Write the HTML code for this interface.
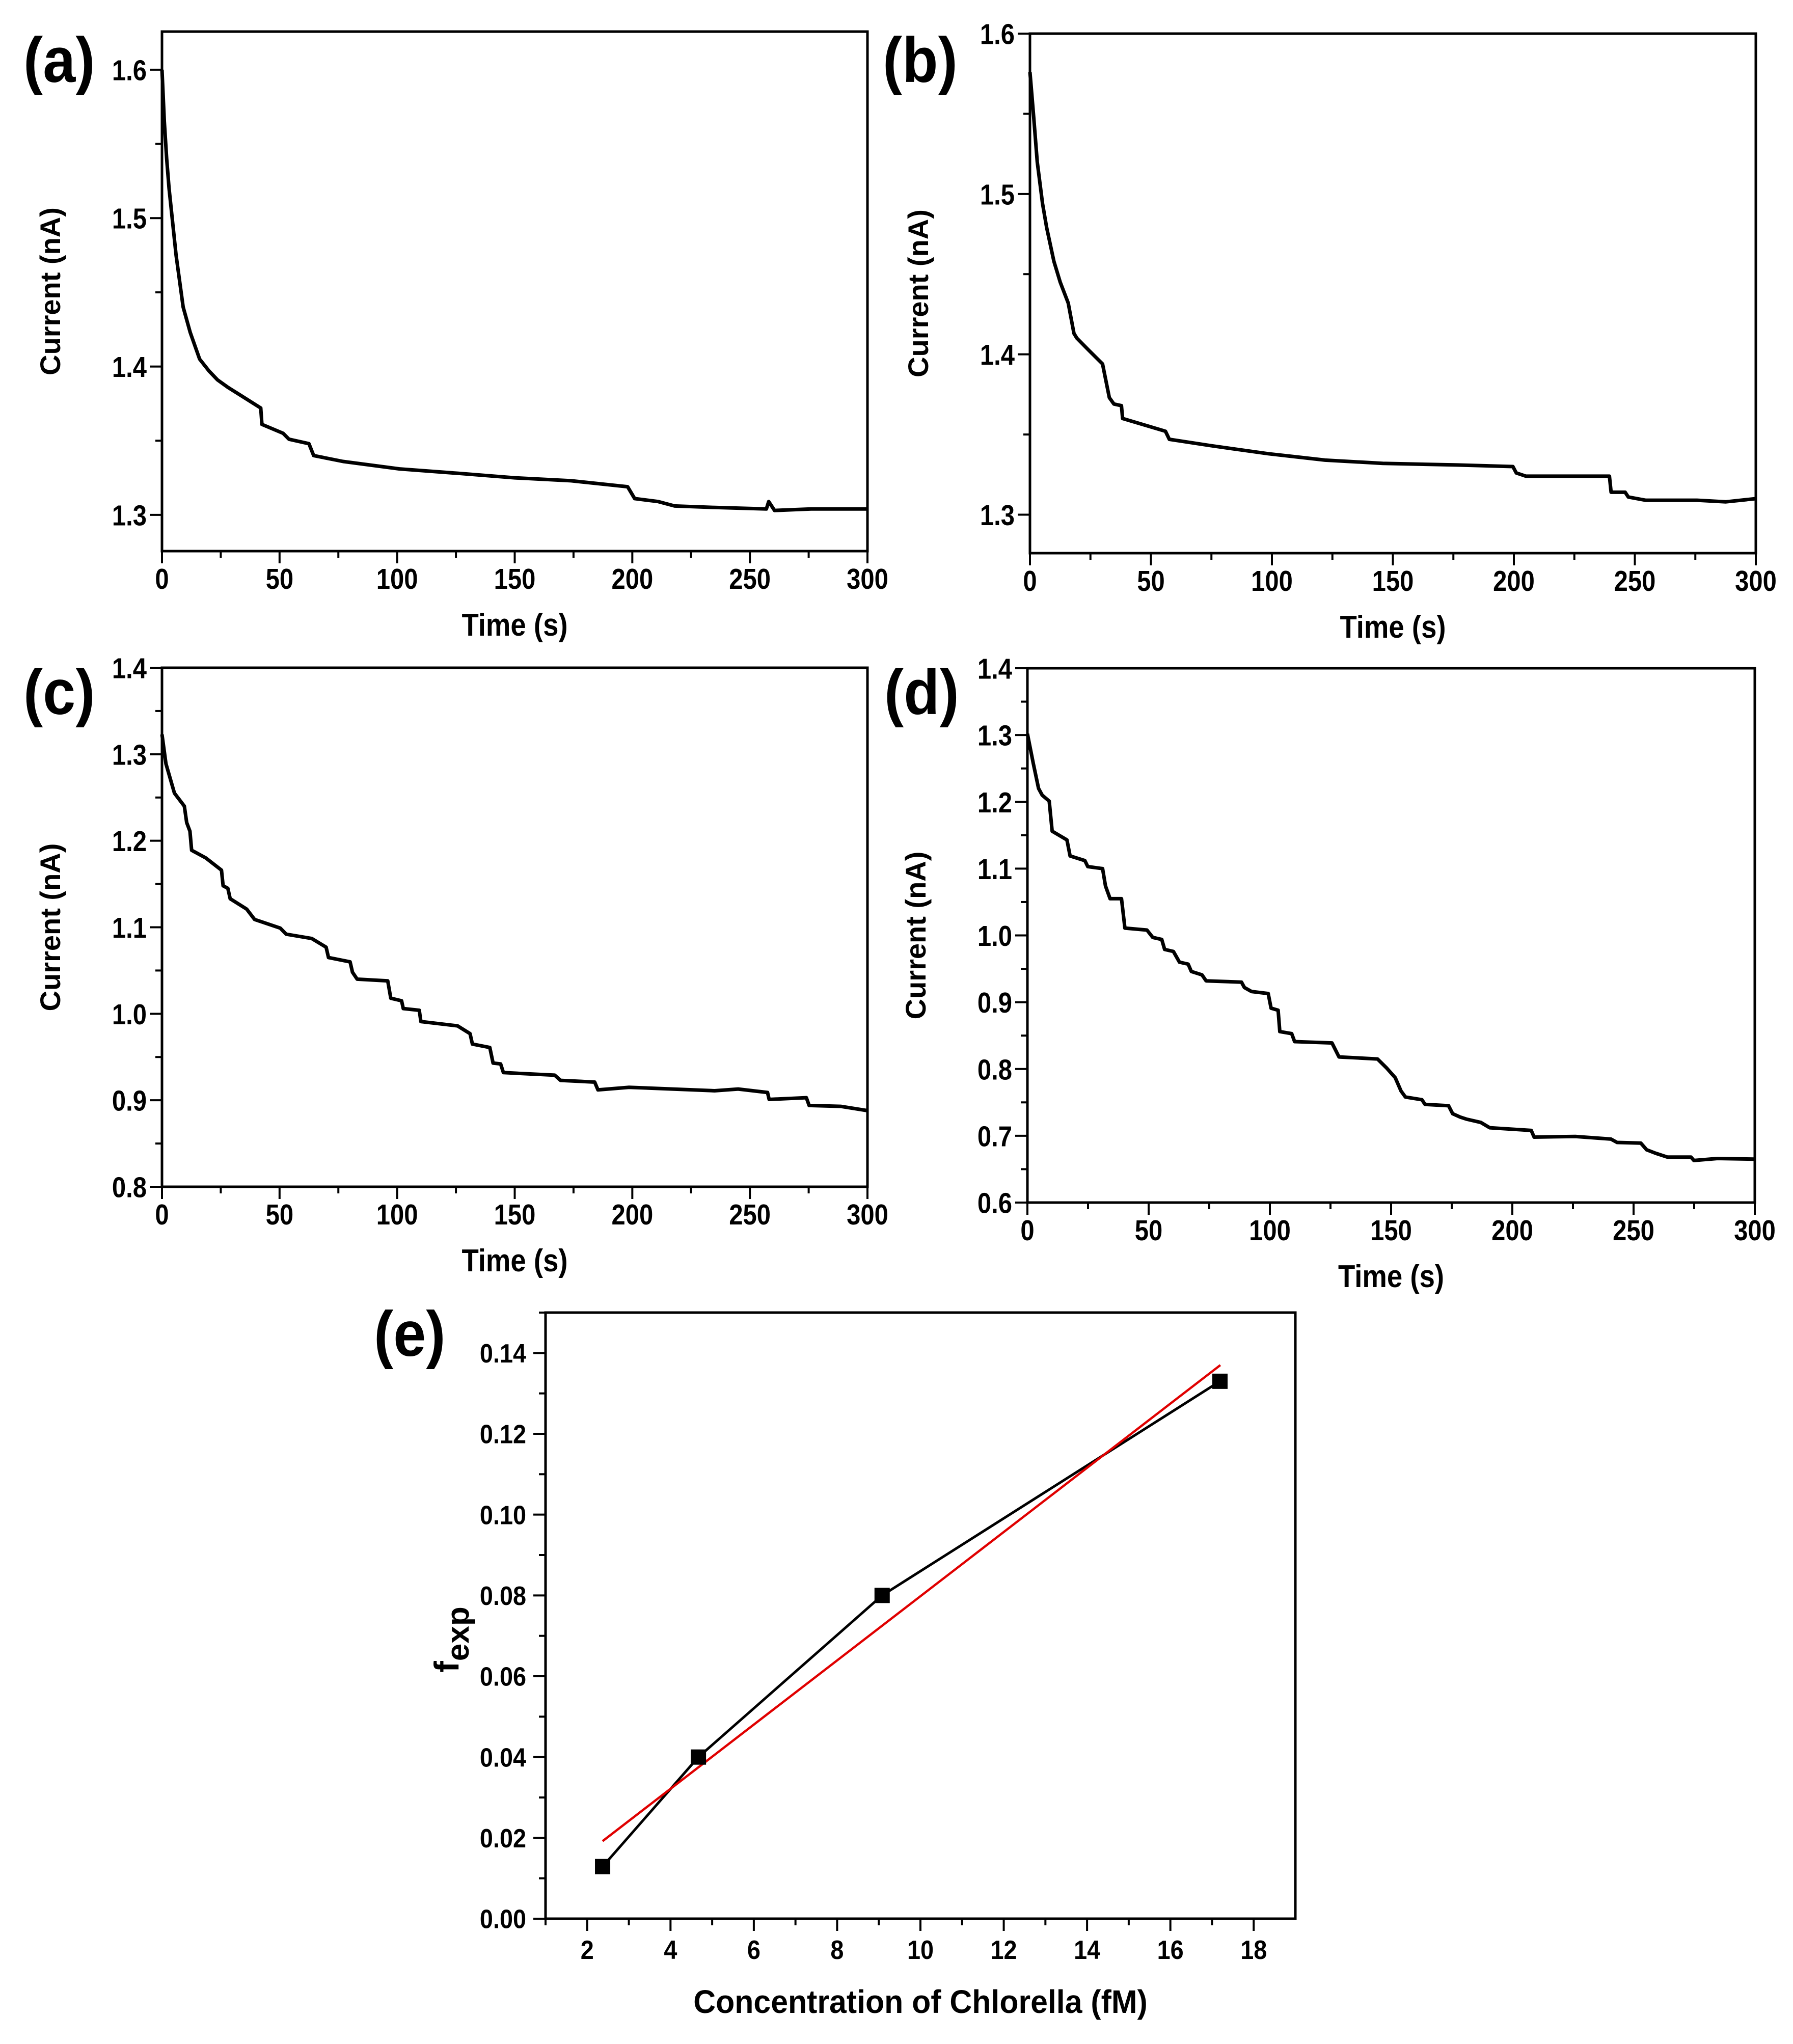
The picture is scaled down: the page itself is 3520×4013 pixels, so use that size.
<!DOCTYPE html>
<html><head><meta charset="utf-8">
<style>
html,body{margin:0;padding:0;background:#fff;}
svg{display:block;}
text{font-family:"Liberation Sans",Arial,sans-serif;font-weight:bold;fill:#000;}
</style></head>
<body>
<svg id="fig" xmlns="http://www.w3.org/2000/svg" width="3520" height="4013" viewBox="0 0 3520 4013">
<rect width="3520" height="4013" fill="#fff"/>
</svg>
<script>
// ---- data ----
const tA = [0,1,2,3,4,6,9,12,16,20,23.6,28,33,42,42.5,51.5,54,62.5,64.5,77,101,126,150,174,198,201,211,218,235,257,258,260.5,276,300];
const iA = [1.60,1.565,1.54,1.52,1.505,1.475,1.44,1.423,1.405,1.397,1.391,1.386,1.381,1.372,1.361,1.355,1.351,1.348,1.340,1.336,1.331,1.328,1.325,1.323,1.319,1.311,1.309,1.306,1.305,1.304,1.309,1.303,1.304,1.304];
const tB = [0,1.6,3,5.2,6.9,9.9,12.5,15.8,18.2,19.4,24,30,32.8,34.7,37.8,38.3,56,57.6,74.9,98.5,122,145.8,176.5,199.6,201,205,228,239.5,240.2,246,247.3,254.4,275.7,287.5,300];
const iB = [1.576,1.547,1.52,1.494,1.479,1.458,1.445,1.432,1.413,1.410,1.403,1.394,1.373,1.369,1.368,1.360,1.352,1.347,1.343,1.338,1.334,1.332,1.331,1.330,1.326,1.324,1.324,1.324,1.314,1.314,1.311,1.309,1.309,1.308,1.310];
const tC = [0,1.7,5.3,9.5,10.5,11.9,12.6,18.7,25.3,26,28,29,36,39.4,50.3,52.8,63.7,69.8,70.8,80,81,83,96,97.3,101.9,102.6,109.4,110.1,125.7,131,132,139.4,140.8,144,145.2,167,169.5,184,185.4,198.6,235,245,257.5,258.2,274,275.2,288.6,300];
const iC = [1.323,1.289,1.255,1.240,1.221,1.211,1.189,1.180,1.166,1.148,1.145,1.133,1.121,1.109,1.099,1.092,1.087,1.077,1.065,1.060,1.048,1.040,1.038,1.018,1.015,1.006,1.004,0.991,0.986,0.977,0.965,0.961,0.943,0.942,0.932,0.929,0.923,0.921,0.912,0.915,0.911,0.913,0.909,0.901,0.903,0.894,0.893,0.888];
const tD = [0,2.4,4.6,6.1,9,10.2,16.3,17.6,23.7,24.9,31,32.2,34.1,38.8,40.2,49.3,51.7,55.4,56.6,60.2,62.7,66.3,67.6,72,73.7,88.3,89.5,92.4,99.3,100.5,103.4,104.1,109,110.2,125.6,128.5,144.4,148,151.7,154.1,155.9,162.7,164,173.7,175.4,178.5,181,187,190.7,207.8,209,226,240.7,243.2,253,255.4,259,264,273.7,274.9,284.6,300];
const iD = [1.302,1.258,1.220,1.210,1.201,1.156,1.143,1.119,1.112,1.103,1.100,1.074,1.055,1.055,1.011,1.008,0.997,0.994,0.979,0.976,0.960,0.957,0.946,0.941,0.932,0.930,0.922,0.916,0.913,0.891,0.888,0.856,0.853,0.841,0.839,0.818,0.815,0.802,0.787,0.767,0.758,0.754,0.747,0.745,0.733,0.728,0.725,0.720,0.712,0.708,0.698,0.699,0.695,0.690,0.689,0.679,0.674,0.668,0.668,0.663,0.666,0.665];
const concE = [2.37,4.67,9.08,17.19];
const fexpE = [0.0129,0.040,0.080,0.133];
const fitX = [2.37,17.2];
const fitY = [0.0192,0.137];
const timeTicks = [0,50,100,150,200,250,300];
const yTicksAB = [1.3,1.4,1.5,1.6];
const yTicksC = [0.8,0.9,1.0,1.1,1.2,1.3,1.4];
const yTicksD = [0.6,0.7,0.8,0.9,1.0,1.1,1.2,1.3,1.4];
const xTicksE = [2,4,6,8,10,12,14,16,18];
const yTicksE = [0,0.02,0.04,0.06,0.08,0.10,0.12,0.14];

const NS = "http://www.w3.org/2000/svg";
const svg = document.getElementById('fig');
function mk(tag, attrs, parent){
  const e = document.createElementNS(NS, tag);
  for (const k in attrs) e.setAttribute(k, attrs[k]);
  (parent||svg).appendChild(e);
  return e;
}
function txt(parent, s, x, y, size, anchor, sx, rot){
  const g = mk('g', {transform:`translate(${x},${y})` + (rot?` rotate(${rot})`:'') + ` scale(${sx},1)`}, parent);
  const t = mk('text', {x:0, y:0, 'font-size':size, 'text-anchor':anchor}, g);
  t.textContent = s;
  return t;
}

function panel(cfg){
  const g = mk('g', {});
  
  
  const {L,R,T,B,x0,x1,y0,y1} = cfg;
  const sx = v => L + (v-x0)/(x1-x0)*(R-L);
  const sy = v => B - (v-y0)/(y1-y0)*(B-T);
  const tg = mk('g', {stroke:'#000','stroke-width':4}, g);
  
  
  cfg.xt.forEach((v,i)=>{
    mk('line',{x1:sx(v),x2:sx(v),y1:B,y2:B+24},tg);
    if (i < cfg.xt.length-1){ const m=(v+cfg.xt[i+1])/2; mk('line',{x1:sx(m),x2:sx(m),y1:B,y2:B+13},tg); }
  });
  if (cfg.xMinorEdge){ cfg.xMinorEdge.forEach(m=>mk('line',{x1:sx(m),x2:sx(m),y1:B,y2:B+13},tg)); }
  const yt = cfg.yt, step = yt[1]-yt[0];
  for (let v = yt[0]-step/2; v <= y1+1e-9; v += step/2){
    if (v < y0-1e-9) continue;
    const major = yt.some(t=>Math.abs(t-v)<1e-6);
    mk('line',{x1:L-(major?24:13),x2:L,y1:sy(v),y2:sy(v)},tg);
  }
  const fr = mk('rect',{x:L,y:T,width:R-L,height:B-T,fill:'none',stroke:'#000','stroke-width':5},g);
  
  
  cfg.xt.forEach(v=>{
    const t = txt(g, cfg.xfmt(v), sx(v), B+cfg.xlOff, cfg.fs, 'middle', cfg.fsx);
    
    
  });
  yt.forEach(v=>{
    const t = txt(g, cfg.yfmt(v), L-cfg.ylOff, sy(v)+cfg.fs*0.36, cfg.fs, 'end', cfg.fsx);
    
    
  });
  const xtl = txt(g, cfg.xTitle, (L+R)/2, B+cfg.xtOff, cfg.tfs, 'middle', cfg.tsx);
  
  
  if (cfg.yTitle){
    const ytl = txt(g, cfg.yTitle, L-cfg.ytOff, (T+B)/2, 56, 'middle', 1, -90);
    
    
  }
  const lab = txt(g, cfg.letter, cfg.lx, cfg.ly, 125, 'start', 0.92);
  
  
  return {g, sx, sy};
}

function trace(p, xs, ys, name, color, w){
  const d = xs.map((x,i)=>(i?'L':'M')+p.sx(x).toFixed(1)+','+p.sy(ys[i]).toFixed(1)).join('');
  const path = mk('path',{d, fill:'none', stroke:color, 'stroke-width':w, 'stroke-linejoin':'round'}, p.g);
  
  
  return path;
}

const f1 = v=>v.toFixed(1), f0 = v=>String(v), f2 = v=>v.toFixed(2);
const common = {x0:0,x1:300,xt:timeTicks,xfmt:f0,yfmt:f1,fs:57,fsx:0.86,xlOff:74,ylOff:30,xTitle:'Time (s)',xtOff:166,tfs:62,tsx:0.88,yTitle:'Current (nA)',ytOff:200};

const pA = panel(Object.assign({},common,{name:'panel-a',L:318,R:1703,T:62,B:1082,y0:1.2756,y1:1.6257,yt:yTicksAB,letter:'(a)',lx:46,ly:161}));
trace(pA,tA,iA,'current-trace-a','#000',7);
const pB = panel(Object.assign({},common,{name:'panel-b',L:2022,R:3447,T:66,B:1086,y0:1.276,y1:1.6,yt:yTicksAB,letter:'(b)',lx:1733,ly:161}));
trace(pB,tB,iB,'current-trace-b','#000',7);
const pC = panel(Object.assign({},common,{name:'panel-c',L:318,R:1703,T:1311,B:2330,y0:0.8,y1:1.4,yt:yTicksC,letter:'(c)',lx:46,ly:1402}));
trace(pC,tC,iC,'current-trace-c','#000',7);
const pD = panel(Object.assign({},common,{name:'panel-d',L:2017,R:3445,T:1312,B:2361,y0:0.6,y1:1.4,yt:yTicksD,letter:'(d)',lx:1736,ly:1402}));
trace(pD,tD,iD,'current-trace-d','#000',7);

const pE = panel({name:'panel-e',L:1071,R:2543,T:2577,B:3767,x0:1,x1:19,y0:0,y1:0.15,xt:xTicksE,xMinorEdge:[1],yt:yTicksE,xfmt:f0,yfmt:f2,fs:52,fsx:0.9,xlOff:79,ylOff:38,xTitle:'Concentration of Chlorella (fM)',xtOff:185,tfs:64,tsx:0.95,yTitle:null,letter:'(e)',lx:734,ly:2662});
trace(pE,concE,fexpE,'data-line','#000',5);
trace(pE,fitX,fitY,'linear-fit-line','#e00000',4.5);
concE.forEach((c,i)=>{
  const r = mk('rect',{x:pE.sx(c)-15,y:pE.sy(fexpE[i])-15,width:30,height:30,fill:'#000'},pE.g);
  
  
});
const fg = mk('g',{transform:'translate(900,3219) rotate(-90)'});


const ft = mk('text',{x:0,y:0,'font-size':68,'text-anchor':'middle'},fg);
const s1 = mk('tspan',{},ft); s1.textContent='f';
const s2 = mk('tspan',{dy:20,'font-size':62},ft); s2.textContent='exp';
</script>
</body></html>
